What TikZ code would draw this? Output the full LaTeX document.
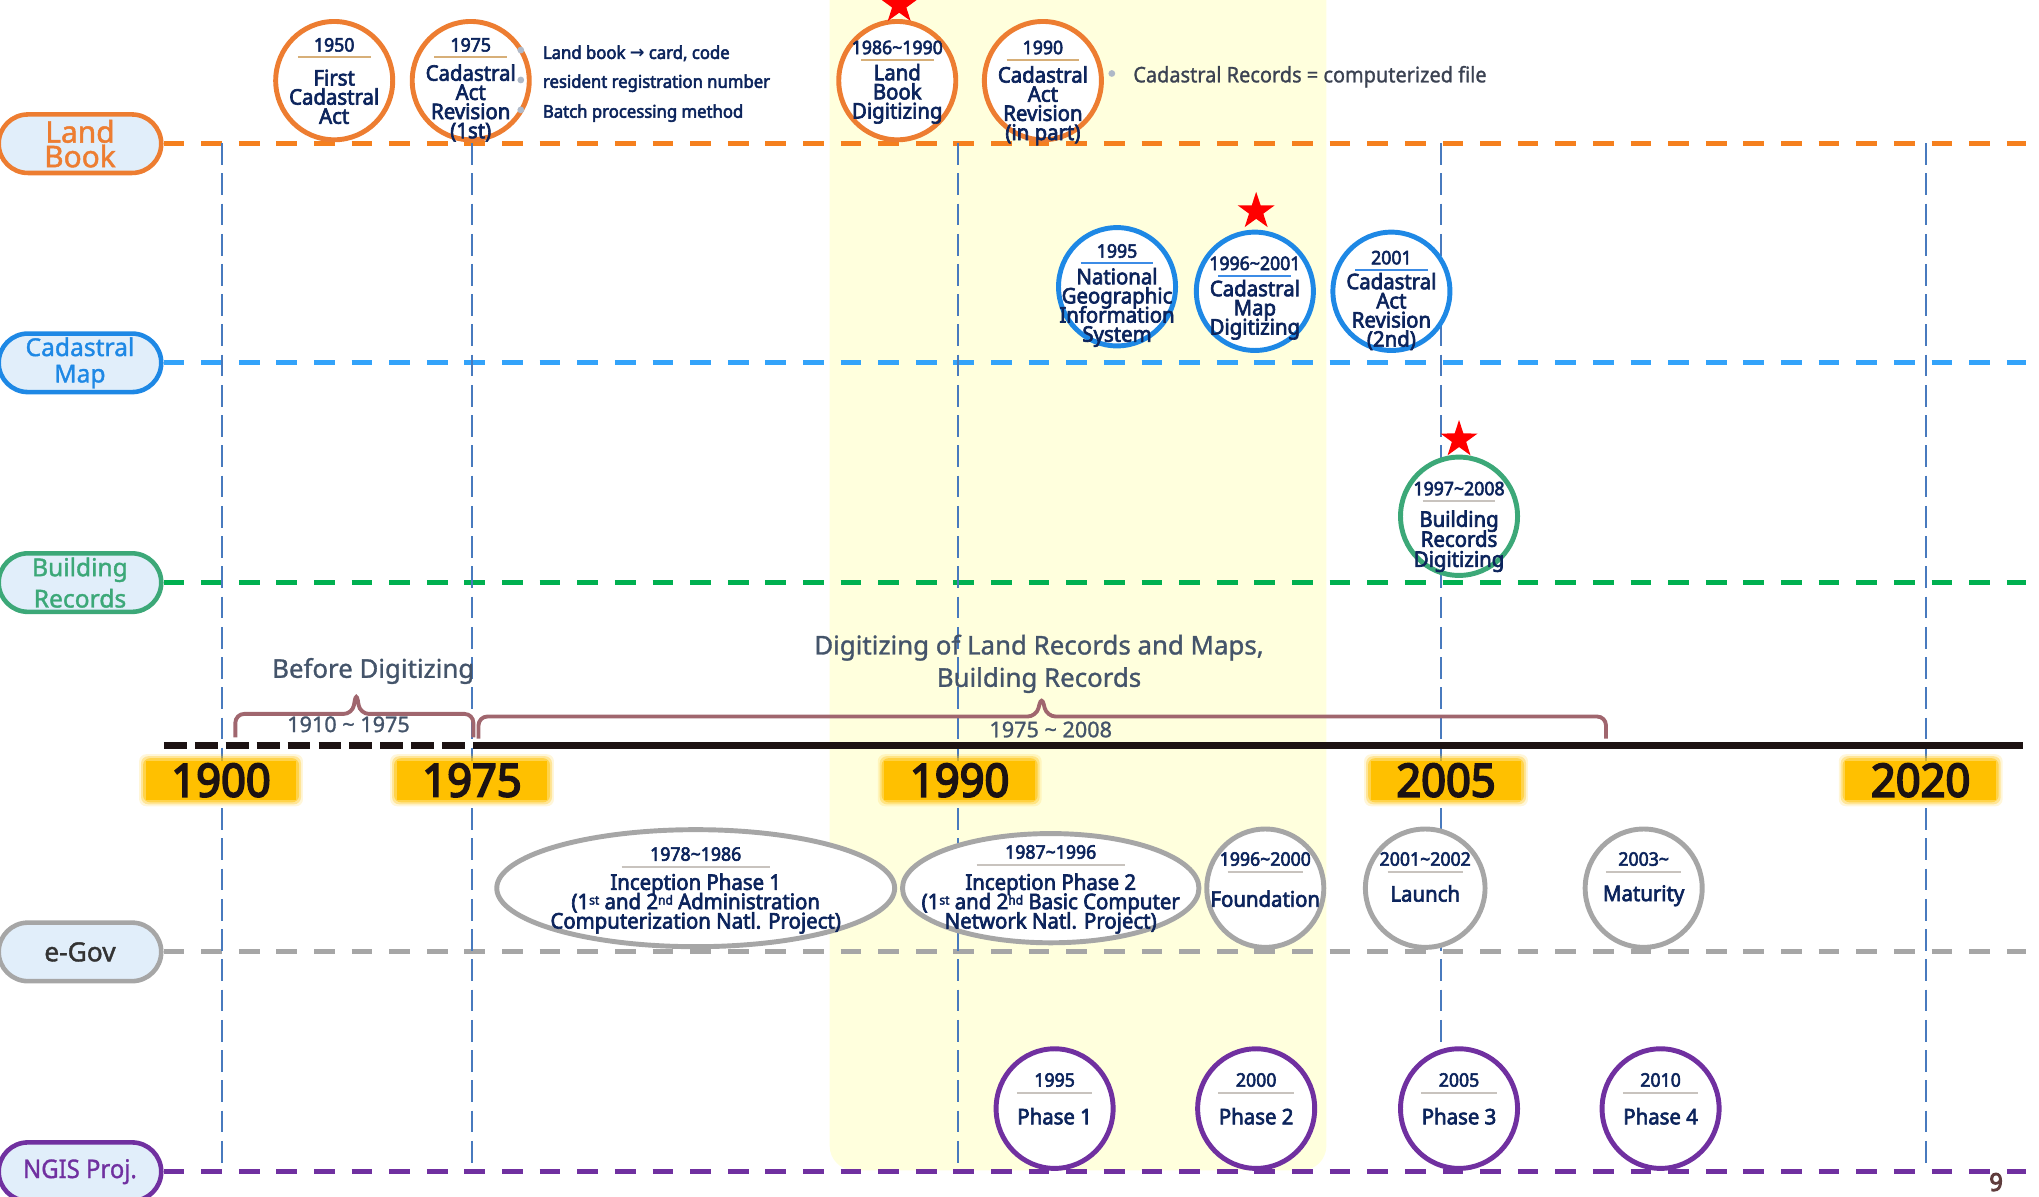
\documentclass[tikz,border=0pt]{standalone}
\usepackage{fontspec}
\setmainfont{Noto Sans}[FakeStretch=0.95, BoldFont={Noto Sans}, BoldFeatures={FakeBold=3}]
\newfontfamily\widefont{Noto Sans}[FakeBold=1.5]
\newfontfamily\semifont{Noto Sans}[FakeBold=1.2]
\newfontfamily\semicond{Noto Sans}[FakeStretch=0.93, FakeBold=1.2]
\newfontfamily\yearfont{Noto Sans}[FakeStretch=0.95, FakeBold=4]
\newfontfamily\symbolfont{DejaVu Sans}
\usetikzlibrary{shapes.geometric,shapes.misc}

\lineskiplimit=-20pt
\lineskip=0pt

\definecolor{lborange}{RGB}{237,125,49}
\definecolor{lblane}{RGB}{245,128,30}
\definecolor{cmblue}{RGB}{30,136,229}
\definecolor{cmlane}{RGB}{51,163,250}
\definecolor{brgreen}{RGB}{60,168,120}
\definecolor{brlane}{RGB}{0,176,80}
\definecolor{egray}{RGB}{166,166,166}
\definecolor{ngpurple}{RGB}{112,48,160}
\definecolor{navy}{RGB}{12,36,92}
\definecolor{pillfill}{RGB}{225,238,250}
\definecolor{bandyellow}{RGB}{255,255,221}
\definecolor{gold}{RGB}{255,192,0}
\definecolor{bracecol}{RGB}{160,102,110}
\definecolor{slate}{RGB}{68,84,106}
\definecolor{darkslate}{RGB}{59,66,82}
\definecolor{vline}{RGB}{72,122,190}
\definecolor{dotgray}{RGB}{175,185,200}
\definecolor{septan}{RGB}{215,175,120}
\definecolor{sepblue}{RGB}{60,140,230}
\definecolor{sepgray}{RGB}{200,195,190}
\definecolor{timeblack}{RGB}{28,18,18}
\definecolor{pagebrown}{RGB}{95,60,60}

\newcommand{\spx}{0.013004cm}
\newcommand{\tld}{\char"007E\relax}
\newcommand{\sups}[1]{\smash{\raisebox{1.3pt}{\fontsize{3.6}{3.6}\selectfont #1}}}

\tikzset{
	lanepill/.style={rounded rectangle, draw=#1, fill=pillfill, line width=1.3pt, minimum width=125*\spx, minimum height=45*\spx, inner sep=0pt, align=center},
	laneline/.style={draw=#1, line width=1.4pt, dash pattern=on 5.9pt off 4.8pt},
	yearline/.style={draw=vline, line width=0.6pt, dash pattern=on 6.2pt off 2.4pt},
	timeline/.style={draw=timeblack, line width=2.1pt},
	yearbox/.style={fill=gold, minimum width=116*\spx, minimum height=30*\spx, inner sep=0pt, text=timeblack, font=\yearfont\fontsize{13}{13}\selectfont},
	mile/.style={ellipse, draw=#1, fill=white, line width=1.4pt, inner sep=0pt, minimum width=90*\spx, minimum height=91*\spx},
	mileyear/.style={text=navy, inner sep=0pt, font=\bfseries\fontsize{5.3}{5.3}\selectfont},
	milelabel/.style={text=navy, inner sep=0pt, align=center, anchor=north, font=\bfseries\fontsize{6.1}{5.45}\selectfont},
	sepline/.style={draw=#1, line width=0.5pt},
	redstar/.style={star, star points=5, star point ratio=2.6, fill=red, inner sep=0pt, minimum size=30*\spx},
	brace/.style={draw=bracecol, line width=1.1pt, rounded corners=2.5pt},
	phasetext/.style={text=slate, inner sep=0pt, align=center, font=\semifont\fontsize{7.35}{9.2}\selectfont},
	spantext/.style={text=slate, inner sep=0pt, font=\semifont\fontsize{6.15}{6.15}\selectfont},
	note/.style={anchor=west, inner sep=0pt, text=navy, font=\bfseries\fontsize{5}{5}\selectfont},
	notedot/.style={fill=dotgray}
}

\begin{document}
\begin{tikzpicture}[x=\spx,y=-\spx]
\useasboundingbox (0,0) rectangle (1568,920);

%Hintergrund
\fill[bandyellow, rounded corners=7pt] (638,-30) rectangle (1020,900);

%Bahnen
\node[lanepill=lborange, text=lborange, font=\widefont\fontsize{8.5}{7}\selectfont] (landbook) at (61.5,110.5) {Land\\Book};
\node[lanepill=cmblue, text=cmblue, font=\widefont\fontsize{7}{7.5}\selectfont] (cadmap) at (61.5,279) {Cadastral\\Map};
\node[lanepill=brgreen, text=brgreen, font=\widefont\fontsize{7}{8.9}\selectfont] (buildrec) at (61.5,448) {Building\\Records};
\node[lanepill=egray, text=black!80, font=\widefont\fontsize{7.5}{7.5}\selectfont] (egov) at (61.5,732) {e-Gov};
\node[lanepill=ngpurple, text=ngpurple, font=\semicond\fontsize{7.3}{7.3}\selectfont] (ngis) at (61.5,901) {NGIS Proj.};

\coordinate (lbend) at (1558,110.5);
\coordinate (cmend) at (1558,279);
\coordinate (brend) at (1558,448);
\coordinate (egend) at (1558,732);
\coordinate (ngend) at (1558,901);
\draw[laneline=lblane] (landbook.east) -- (lbend);
\draw[laneline=cmlane] (cadmap.east) -- (cmend);
\draw[laneline=brlane] (buildrec.east) -- (brend);
\draw[laneline=egray] (egov.east) -- (egend);
\draw[laneline=ngpurple] (ngis.east) -- (ngend);

%Jahreslinien
\foreach \vx in {171,363,737,1108,1481}
{
	\draw[yearline] (\vx,110) -- (\vx,899);
}

%Zeitachse
\coordinate (tlstart) at (126,573.5);
\coordinate (tlmid) at (366,573.5);
\coordinate (tlend) at (1556,573.5);
\draw[timeline, dash pattern=on 6.5pt off 2.3pt] (tlstart) -- (tlmid);
\draw[timeline] (tlmid) -- (tlend);

\foreach \bx/\yy in {170/1900,363/1975,738/1990,1112/2005,1477/2020}
{
	\foreach \g/\o in {5/0.15,3.5/0.3,2/0.5}
	{
		\fill[gold, opacity=\o, rounded corners=2pt] (\bx-58-\g,585-\g) rectangle (\bx+58+\g,615+\g);
	}
	\node[yearbox] (y\yy) at (\bx,600) {\yy};
}

%Klammern
\draw[brace] (181,567) -- (181,549) -- (271,549) -- (274,532) -- (277,549) -- (364,549) -- (364,567);
\draw[brace] (368,568) -- (368,551) -- (797,551) -- (801,535) -- (805,551) -- (1235,551) -- (1235,568);
\node[phasetext] (before) at (287,516) {Before Digitizing};
\node[phasetext] (digit) at (799,510.5) {Digitizing of Land Records and Maps,\\Building Records};
\node[spantext] (span1) at (268,557) {1910 \tld{} 1975};
\node[spantext] (span2) at (808,561) {1975 \tld{} 2008};

%Land Book
\foreach \nm/\cx/\sy/\ly/\yr/\lbl in
{
lb1950/257/44/59/1950/{First\\Cadastral\\Act},
lb1975/362/44/55/1975/{Cadastral\\Act\\Revision\\(1st)},
lb1986/690/46/54.6/1986\tld1990/{Land\\Book\\Digitizing},
lb1990/802/46/56.4/1990/{Cadastral\\Act\\Revision\\(in part)}}
{
	\node[mile=lborange] (\nm) at (\cx,62) {};
	\draw[sepline=septan] (\cx-28,\sy) -- (\cx+28,\sy);
	\node[mileyear] (\nm-year) at (\cx,\sy-9.5) {\yr};
	\node[milelabel] (\nm-text) at (\cx,\ly-6) {\lbl};
}

%Cadastral Map
\foreach \nm/\cx/\cy/\sy/\ly/\yr/\lbl in
{
cm1995/859/220.5/202.5/211.5/1995/{National\\Geographic\\Information\\System},
cm1996/965/224/212/220.7/1996\tld2001/{Cadastral\\Map\\Digitizing},
cm2001/1070/224/207.6/215.3/2001/{Cadastral\\Act\\Revision\\(2nd)}}
{
	\node[mile=cmblue] (\nm) at (\cx,\cy) {};
	\draw[sepline=sepblue] (\cx-28,\sy) -- (\cx+28,\sy);
	\node[mileyear] (\nm-year) at (\cx,\sy-9.5) {\yr};
	\node[milelabel] (\nm-text) at (\cx,\ly-6) {\lbl};
}

%Building Records
\node[mile=brgreen] (br1997) at (1122,397) {};
\draw[sepline=sepgray] (1094,385.2) -- (1150,385.2);
\node[mileyear] (br1997-year) at (1122,375.7) {1997\tld2008};
\node[milelabel, font=\bfseries\fontsize{6.1}{5.7}\selectfont] (br1997-text) at (1122,392) {Building\\Records\\Digitizing};

%Sterne
\node[redstar] (lbstar) at (691.5,4) {};
\node[redstar] (cmstar) at (966,162.5) {};
\node[redstar] (brstar) at (1122,338) {};

%e-Gov
\foreach \nm/\cx/\mw/\mh/\sy/\hw/\ly/\yr/\lbl in
{
eg1978/535/306/90/666.6/57/677/1978\tld1986/{Inception Phase 1\\(1\sups{st} and 2\sups{nd} Administration\\Computerization Natl. Project)},
eg1987/808/228/84/665/57/677/1987\tld1996/{Inception Phase 2\\(1\sups{st} and 2\sups{hd} Basic Computer\\Network Natl. Project)},
eg1996/973/90/91/670.4/29/690/1996\tld2000/{Foundation},
eg2001/1096/92/91/670.4/29/686/2001\tld2002/{Launch},
eg2003/1264/90/91/670.4/29/686/2003\tld/{Maturity}}
{
	\node[mile=egray, minimum width=\mw*\spx, minimum height=\mh*\spx] (\nm) at (\cx,683) {};
	\draw[sepline=sepgray] (\cx-\hw,\sy) -- (\cx+\hw,\sy);
	\node[mileyear] (\nm-year) at (\cx,\sy-9.8) {\yr};
	\node[milelabel, font=\bfseries\fontsize{6.1}{5.5}\selectfont] (\nm-text) at (\cx,\ly-5.8) {\lbl};
}

%NGIS
\foreach \nm/\cx/\yr/\lbl in
{
ng1995/811/1995/Phase 1,
ng2000/966/2000/Phase 2,
ng2005/1122/2005/Phase 3,
ng2010/1277/2010/Phase 4}
{
	\node[mile=ngpurple, minimum height=92*\spx] (\nm) at (\cx,852.5) {};
	\draw[sepline=sepgray] (\cx-29,840.7) -- (\cx+29,840.7);
	\node[mileyear] (\nm-year) at (\cx,830.5) {\yr};
	\node[milelabel] (\nm-text) at (\cx,851.5) {\lbl};
}

%Hinweise
\foreach \ny/\ntxt [count=\ni] in {41/{Land book {\symbolfont →} card, code},64/{resident registration number},87/{Batch processing method}}
{
	\fill[notedot] (400.5,\ny-2.5) circle (2.6);
	\node[note] (note\ni) at (417,\ny) {\ntxt};
}
\fill[notedot] (855,56.5) circle (2.6);
\node[note, text=darkslate, font=\semicond\fontsize{6.1}{6.1}\selectfont] (note4) at (871,59) {Cadastral Records = computerized file};

\node[text=pagebrown, inner sep=0pt, font=\yearfont\fontsize{7}{7}\selectfont] (pagenum) at (1535,909) {9};

\end{tikzpicture}
\end{document}
